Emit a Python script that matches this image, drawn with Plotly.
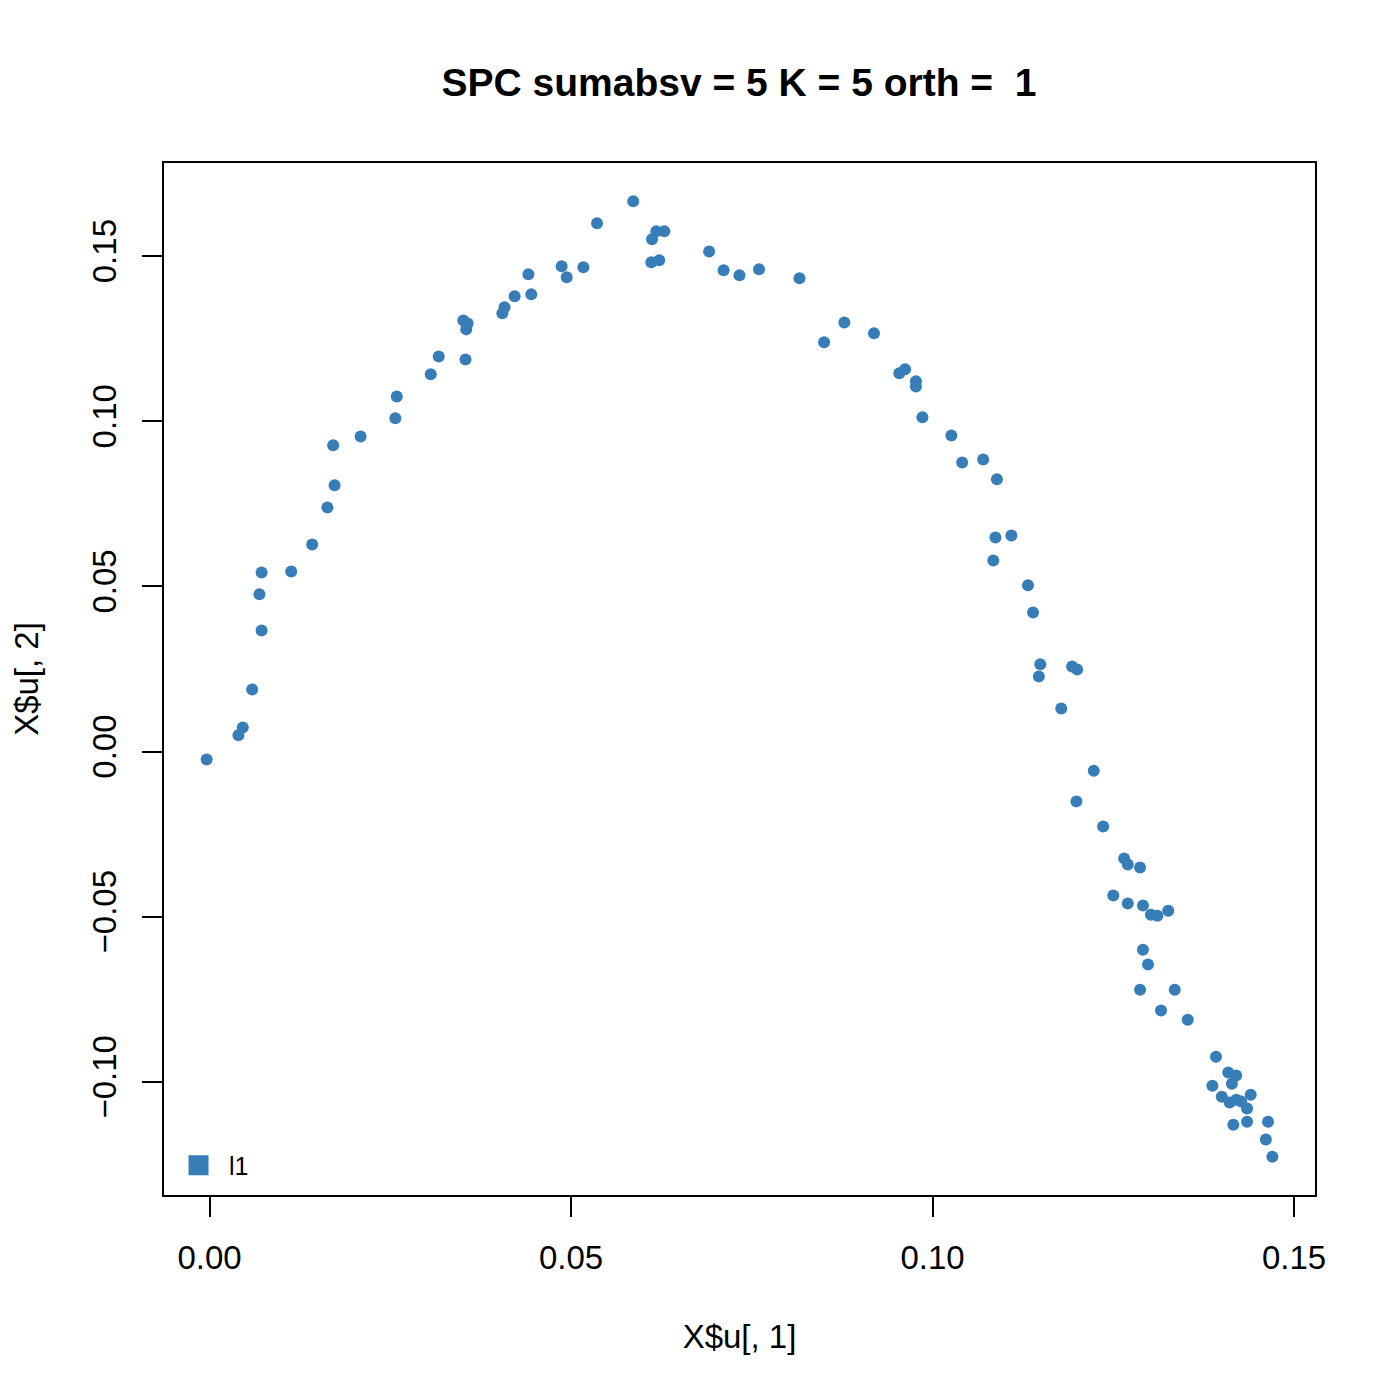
import plotly.graph_objects as go

# Data
u1 = [-0.0004, 0.0040, 0.0046, 0.0059, 0.0072, 0.0069, 0.0072, 0.0113, 0.0142, 0.0163,
      0.0173, 0.0171, 0.0209, 0.0257, 0.0259, 0.0306, 0.0317, 0.0354, 0.0351, 0.0357,
      0.0355, 0.0405, 0.0408, 0.0422, 0.0445, 0.0441, 0.0487, 0.0494, 0.0517, 0.0536,
      0.0586, 0.0618, 0.0629, 0.0612, 0.0611, 0.0622, 0.0691, 0.0711, 0.0733, 0.0760,
      0.0816, 0.0850, 0.0878, 0.0919, 0.0954, 0.0962, 0.0977, 0.0977, 0.0986, 0.1026,
      0.1041, 0.1070, 0.1089, 0.1087, 0.1109, 0.1084, 0.1132, 0.1139, 0.1149, 0.1147,
      0.1193, 0.1200, 0.1178, 0.1223, 0.1199, 0.1236, 0.1265, 0.1270, 0.1287, 0.1250,
      0.1270, 0.1291, 0.1302, 0.1311, 0.1326, 0.1291, 0.1298, 0.1287, 0.1335, 0.1316,
      0.1353, 0.1392, 0.1409, 0.1420, 0.1414, 0.1387, 0.1400, 0.1440, 0.1411, 0.1420,
      0.1427, 0.1435, 0.1416, 0.1435, 0.1464, 0.1461, 0.1470]
u2 = [-0.0024, 0.0049, 0.0073, 0.0188, 0.0366, 0.0476, 0.0542, 0.0545, 0.0627, 0.0739,
      0.0806, 0.0927, 0.0954, 0.1009, 0.1075, 0.1142, 0.1196, 0.1187, 0.1305, 0.1296,
      0.1278, 0.1327, 0.1345, 0.1378, 0.1384, 0.1445, 0.1469, 0.1436, 0.1466, 0.1599,
      0.1666, 0.1575, 0.1575, 0.1551, 0.1481, 0.1487, 0.1514, 0.1457, 0.1442, 0.1460,
      0.1433, 0.1239, 0.1299, 0.1266, 0.1145, 0.1157, 0.1121, 0.1105, 0.1012, 0.0957,
      0.0875, 0.0884, 0.0824, 0.0648, 0.0654, 0.0578, 0.0503, 0.0421, 0.0264, 0.0227,
      0.0257, 0.0248, 0.0130, -0.0058, -0.0151, -0.0227, -0.0324, -0.0342, -0.0351, -0.0436,
      -0.0460, -0.0466, -0.0494, -0.0497, -0.0482, -0.0600, -0.0645, -0.0721, -0.0721, -0.0784,
      -0.0812, -0.0924, -0.0972, -0.0981, -0.1006, -0.1012, -0.1045, -0.1039, -0.1063, -0.1054,
      -0.1060, -0.1081, -0.1130, -0.1121, -0.1121, -0.1175, -0.1227]

x_ticks = [0.00, 0.05, 0.10, 0.15]
x_tick_labels = ["0.00", "0.05", "0.10", "0.15"]
y_ticks = [-0.10, -0.05, 0.00, 0.05, 0.10, 0.15]
y_tick_labels = ["\u22120.10", "\u22120.05", "0.00", "0.05", "0.10", "0.15"]
legend_label = "l1"
title_text = "SPC sumabsv = 5 K = 5 orth =  1"

COLOR = "#377EB8"
FONT = "Liberation Sans, Arial, Helvetica, sans-serif"

# the page body has an 8px margin; size the figure to fit the 1400px window
W = H = 1384
OFF = 8


# R-style axis limits (4% padding)
def rlim(v):
    lo, hi = min(v), max(v)
    pad = (hi - lo) * 0.04
    return [lo - pad, hi + pad]


fig = go.Figure()
fig.add_trace(go.Scatter(
    x=u1, y=u2, mode="markers",
    marker=dict(color=COLOR, size=12, line=dict(width=0)),
    showlegend=False, hoverinfo="x+y",
))
fig.add_trace(go.Scatter(
    x=[None], y=[None], mode="markers", name=legend_label,
    marker=dict(color=COLOR, size=16, symbol="square", line=dict(width=4, color=COLOR)),
    showlegend=True,
))

ml, mt = 164 - OFF, 163 - OFF
mr, mb = W - (1315 - OFF), H - (1195 - OFF)

fig.update_layout(
    width=W, height=H,
    paper_bgcolor="white", plot_bgcolor="white",
    margin=dict(l=ml, r=mr, t=mt, b=mb, autoexpand=False),
    font=dict(family=FONT, size=33, color="black"),
    title=dict(text="<b>" + title_text + "</b>", x=(739 - OFF) / W, xanchor="center",
               y=1 - (82 - OFF) / H, yanchor="middle",
               font=dict(family=FONT, size=39, color="black")),
    showlegend=True,
    legend=dict(x=0.0035, y=0.0063, xanchor="left", yanchor="bottom",
                bgcolor="rgba(0,0,0,0)", borderwidth=0,
                font=dict(family=FONT, size=25, color="black"),
                itemsizing="trace", itemwidth=51),
    xaxis=dict(
        range=rlim(u1), tickmode="array", tickvals=x_ticks, ticktext=x_tick_labels,
        ticks="outside", ticklen=20, tickwidth=2, tickcolor="black",
        ticklabelstandoff=12,
        showline=True, linecolor="black", linewidth=2, mirror=True,
        showgrid=False, zeroline=False,
        tickfont=dict(family=FONT, size=33),
        title=dict(text="X$u[, 1]", font=dict(family=FONT, size=33), standoff=50),
    ),
    yaxis=dict(
        range=rlim(u2), tickmode="array", tickvals=y_ticks, ticktext=y_tick_labels,
        ticks="outside", ticklen=20, tickwidth=2, tickcolor="black", tickangle=-90,
        ticklabelstandoff=13,
        showline=True, linecolor="black", linewidth=2, mirror=True,
        showgrid=False, zeroline=False,
        tickfont=dict(family=FONT, size=33),
        title=dict(text="X$u[, 2]", font=dict(family=FONT, size=33), standoff=41),
    ),
)

fig.write_html("out.html")
